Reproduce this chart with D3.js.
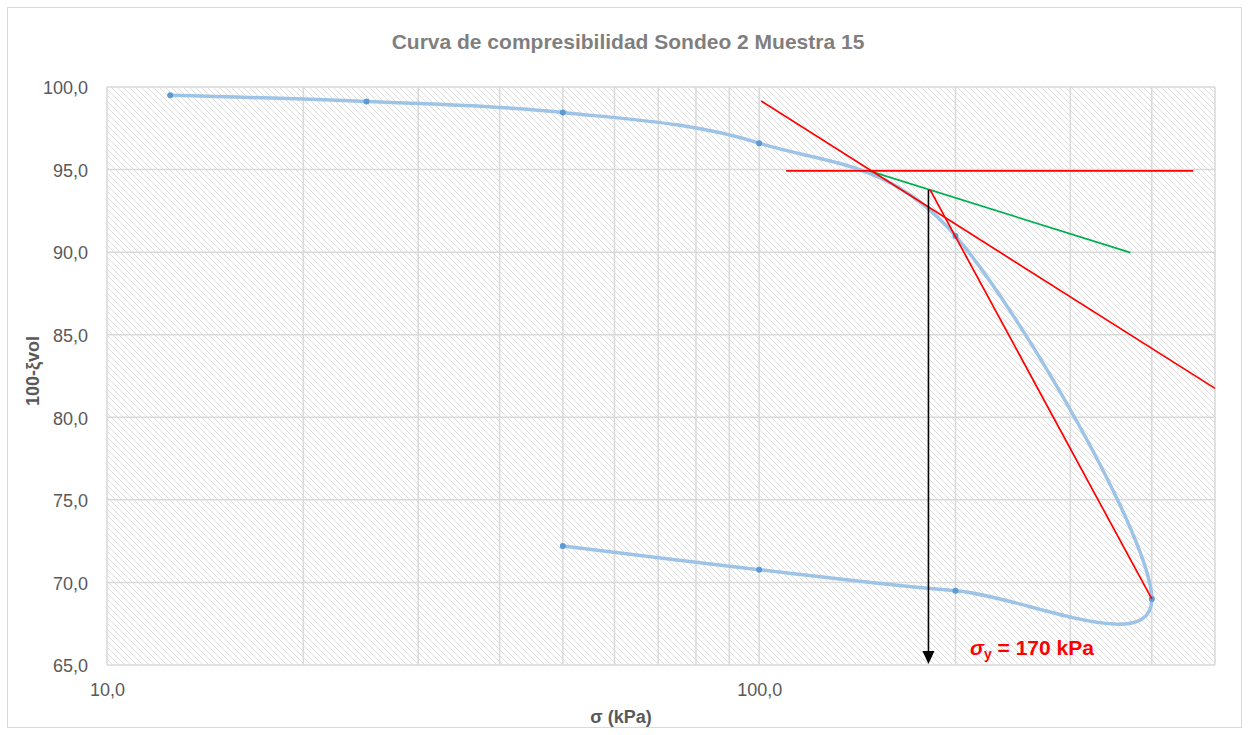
<!DOCTYPE html>
<html>
<head>
<meta charset="utf-8">
<script src="https://cdn.jsdelivr.net/npm/d3@7"></script>
<style>
  html, body { margin: 0; padding: 0; background: #fff; }
  svg { display: block; }
  .narrow { font-family: "Liberation Sans Narrow", "Arial Narrow", "Liberation Sans", Arial, sans-serif; }
</style>
</head>
<body>
<svg id="chart" width="1249" height="735"></svg>
<script>
// Oedometer test: loading and unloading path
const sigma = [12.5, 25, 50, 100, 200, 400, 200, 100, 50];          // kPa
const vol   = [99.5, 99.12, 98.46, 96.6, 90.98, 69.0, 69.5, 70.77, 72.2]; // 100 - ξvol

// Casagrande construction lines [σ, value]
const horizLine   = [[110, 94.92], [463, 94.92]];
const tangentLine = [[100.7, 99.15], [500, 81.75]];
const bisector    = [[147.5, 94.92], [371, 89.97]];
const virginLine  = [[182.8, 93.78], [400, 69.0]];
const yieldArrow  = [[181.8, 93.78], [181.8, 65.0]];
const yieldLabel  = "170 kPa";

// Axis ticks
const yTicks = [65, 70, 75, 80, 85, 90, 95, 100];
const xGrid  = [10, 20, 30, 40, 50, 60, 70, 80, 90, 100, 200, 300, 400, 500];
const xLabels = [10, 100];

const W = 1249, H = 735;
const plot = { left: 107, right: 1215, top: 87, bottom: 665 };

const svg = d3.select("#chart");
const x = d3.scaleLog().domain([10, 500]).range([plot.left, plot.right]);
const y = d3.scaleLinear().domain([65, 100]).range([plot.bottom, plot.top]);
const fmt = v => d3.format(".1f")(v).replace(".", ",");

// Outer frame
svg.append("rect").attr("x", 7.5).attr("y", 7.5).attr("width", W - 15).attr("height", H - 15)
  .attr("fill", "#fff").attr("stroke", "#d9d9d9").attr("stroke-width", 1);

// Hatched plot background
const defs = svg.append("defs");
const pat = defs.append("pattern").attr("id", "hatch").attr("patternUnits", "userSpaceOnUse")
  .attr("width", 6).attr("height", 6);
pat.append("rect").attr("width", 6).attr("height", 6).attr("fill", "#fff");
pat.append("path").attr("d", "M-1,-1 L7,7 M-1,5 L1,7 M5,-1 L7,1")
  .attr("stroke", "#dedede").attr("stroke-width", 1);

svg.append("rect").attr("x", plot.left).attr("y", plot.top)
  .attr("width", plot.right - plot.left).attr("height", plot.bottom - plot.top)
  .attr("fill", "url(#hatch)");

// Gridlines
const grid = svg.append("g").attr("stroke", "#d9d9d9").attr("stroke-width", 1.5);
grid.selectAll("line.h").data(yTicks).join("line")
  .attr("x1", plot.left).attr("x2", plot.right)
  .attr("y1", d => y(d)).attr("y2", d => y(d));
grid.selectAll("line.v").data(xGrid).join("line")
  .attr("y1", plot.top).attr("y2", plot.bottom)
  .attr("x1", d => x(d)).attr("x2", d => x(d));

// Axes (labels only, Excel style)
const yAxis = d3.axisLeft(y).tickValues(yTicks).tickFormat(fmt).tickSize(0).tickPadding(19);
const gy = svg.append("g").attr("class", "narrow").attr("transform", `translate(${plot.left},0)`).call(yAxis);
gy.select(".domain").remove();
gy.selectAll("text").attr("font-size", 18).attr("fill", "#595959").attr("dy", "0.38em")
  .attr("font-family", null);

const xAxis = d3.axisBottom(x).tickValues(xLabels).tickFormat(fmt).tickSize(0).tickPadding(18);
const gx = svg.append("g").attr("class", "narrow").attr("transform", `translate(0,${plot.bottom})`).call(xAxis);
gx.select(".domain").remove();
gx.selectAll("text").attr("font-size", 18).attr("fill", "#595959").attr("font-family", null);

// Titles
svg.append("text").attr("class", "narrow").attr("x", 628).attr("y", 49)
  .attr("text-anchor", "middle").attr("font-size", 21).attr("font-weight", "bold")
  .attr("fill", "#7f7f7f").text("Curva de compresibilidad Sondeo 2 Muestra 15");

svg.append("text").attr("class", "narrow").attr("x", 621).attr("y", 723)
  .attr("text-anchor", "middle").attr("font-size", 18).attr("font-weight", "bold")
  .attr("fill", "#595959").text("σ (kPa)");

svg.append("text").attr("class", "narrow")
  .attr("transform", "translate(39,371) rotate(-90)")
  .attr("text-anchor", "middle").attr("font-size", 18).attr("font-weight", "bold")
  .attr("fill", "#595959").text("100-ξvol");

// Compressibility curve (smoothed)
const pts = sigma.map((s, i) => [s, vol[i]]);
const line = d3.line().x(d => x(d[0])).y(d => y(d[1])).curve(d3.curveCardinal.tension(0));
svg.append("path").attr("d", line(pts)).attr("fill", "none")
  .attr("stroke", "#9dc3e6").attr("stroke-width", 3.5).attr("stroke-linejoin", "round");
svg.selectAll("circle.pt").data(pts).join("circle")
  .attr("cx", d => x(d[0])).attr("cy", d => y(d[1])).attr("r", 3)
  .attr("fill", "#5b9bd5");

// Construction lines
const seg = d3.line().x(d => x(d[0])).y(d => y(d[1]));
svg.append("path").attr("d", seg(bisector)).attr("stroke", "#00b050").attr("stroke-width", 1.7).attr("fill", "none");
[horizLine, tangentLine, virginLine].forEach(l =>
  svg.append("path").attr("d", seg(l)).attr("stroke", "#ff0000").attr("stroke-width", 1.7).attr("fill", "none"));

// Yield stress arrow
const ax = x(yieldArrow[0][0]);
const ay0 = y(yieldArrow[0][1]), ay1 = y(yieldArrow[1][1]);
svg.append("line").attr("x1", ax).attr("x2", ax).attr("y1", ay0).attr("y2", ay1 - 12)
  .attr("stroke", "#000").attr("stroke-width", 1.6);
svg.append("path").attr("d", `M${ax - 6},${ay1 - 14} L${ax + 6},${ay1 - 14} L${ax},${ay1 - 1} Z`).attr("fill", "#000");

// Yield stress label
const lbl = svg.append("text").attr("x", 970).attr("y", 655)
  .attr("font-family", "'Liberation Sans', Arial, sans-serif")
  .attr("font-size", 21).attr("font-weight", "bold").attr("fill", "#ff0000");
lbl.append("tspan").attr("font-style", "italic").text("σ");
lbl.append("tspan").attr("font-size", 14).attr("dy", 4).text("y");
lbl.append("tspan").attr("dy", -4).text(" = " + yieldLabel);
</script>
</body>
</html>
